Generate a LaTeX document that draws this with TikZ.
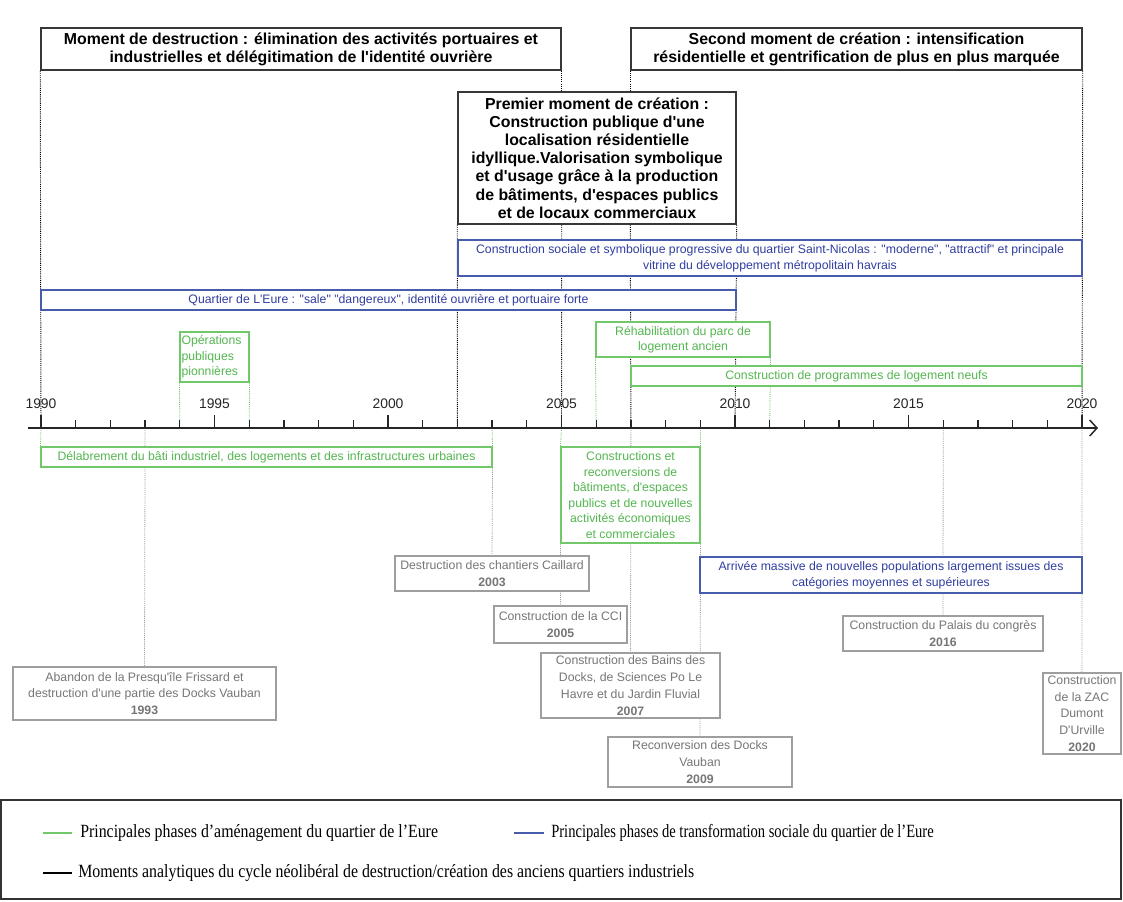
\documentclass[tikz,border=0pt]{standalone}
\usepackage{fontspec}
\usetikzlibrary{arrows.meta,backgrounds}
\newfontfamily\arialf{Liberation Sans}
\newfontfamily\timesf{Liberation Serif}
\definecolor{gtxt}{RGB}{84,182,80}
\definecolor{gline}{RGB}{112,200,104}
\definecolor{btxt}{RGB}{48,62,160}
\definecolor{bline}{RGB}{72,92,172}
\definecolor{etxt}{RGB}{118,118,118}
\definecolor{eline}{RGB}{158,158,158}
\definecolor{hdrc}{RGB}{55,55,55}
\begin{document}
\begin{tikzpicture}[x=0.75pt,y=-0.75pt,
  every node/.style={inner sep=0pt, font=\arialf},
  wh/.style 2 args={minimum width=#1*0.75pt, minimum height=#2*0.75pt},
  hdr/.style={draw=hdrc, line width=1.1pt, fill=white, align=center,
    font=\arialf\bfseries\fontsize{11.9}{13.6}\selectfont},
  gbox/.style={draw=gline, line width=0.8pt, fill=white, align=center, text=gtxt,
    font=\arialf\fontsize{9.2}{11.6}\selectfont},
  bbox/.style={draw=bline, line width=0.8pt, fill=white, align=center, text=btxt,
    font=\arialf\fontsize{9.2}{12}\selectfont},
  ebox/.style={draw=eline, line width=0.8pt, fill=white, align=center, text=etxt,
    font=\arialf\fontsize{9.2}{12.6}\selectfont},
  kline/.style={draw=black, line width=0.7pt, dash pattern=on 0.8pt off 0.8pt},
  gdot/.style={draw=gline, line width=0.6pt, dash pattern=on 0.8pt off 0.8pt},
  edot/.style={draw=eline, line width=0.6pt, dash pattern=on 0.8pt off 0.8pt},
  tickln/.style={line width=1pt, draw=black!85},
  yearlab/.style={font=\arialf\fontsize{10.4}{11}\selectfont, text=black!85},
  leglab/.style={anchor=west, font=\timesf\fontsize{14}{15}\selectfont}
]
\useasboundingbox (0,0) rectangle (1123,901);

% axis coordinates
\foreach \yr in {1990,...,2020}{
  \coordinate (t\yr) at ({41+(\yr-1990)*34.7},428);
}
\coordinate (axstart) at (28,428);
\coordinate (axend) at (1098,428);

% headers
\node[hdr, wh={520}{42}] (h1) at (301,49) {Moment de destruction : élimination des activités portuaires et\\industrielles et délégitimation de l'identité ouvrière};
\node[hdr, wh={451}{42}] (h3) at (856.5,49) {Second moment de création : intensification\\résidentielle et gentrification de plus en plus marquée};
\node[hdr, wh={278}{132}] (h2) at (597,158) {Premier moment de création :\\Construction publique d'une\\localisation résidentielle\\idyllique.Valorisation symbolique\\et d'usage grâce à la production\\de bâtiments, d'espaces publics\\et de locaux commerciaux};

% blue phases
\node[bbox, wh={624}{36}] (b1) at (770,258) {Construction sociale et symbolique progressive du quartier Saint-Nicolas : "moderne", "attractif" et principale\\vitrine du développement métropolitain havrais};
\node[bbox, wh={695}{20}] (b2) at (388.5,300) {Quartier de L'Eure : "sale" "dangereux", identité ouvrière et portuaire forte};
\node[bbox, wh={382}{36}] (b3) at (891,575) {Arrivée massive de nouvelles populations largement issues des\\catégories moyennes et supérieures};

% green phases
\node[gbox, wh={69}{50}, align=left, text width=66*0.75pt] (g1) at (214.5,357) {Opérations\\publiques\\pionnières};
\node[gbox, wh={174}{35}] (g2) at (683,339.5) {Réhabilitation du parc de\\logement ancien};
\node[gbox, wh={451}{20}] (g3) at (856.5,376) {Construction de programmes de logement neufs};
\node[gbox, wh={451}{20}] (g4) at (266.5,457) {Délabrement du bâti industriel, des logements et des infrastructures urbaines};
\node[gbox, wh={139}{96}] (g5) at (630.5,495) {Constructions et\\reconversions de\\bâtiments, d'espaces\\publics et de nouvelles\\activités économiques\\et commerciales};

% events
\node[ebox, wh={194}{35}] (e1) at (492,573.5) {Destruction des chantiers Caillard\\\textbf{2003}};
\node[ebox, wh={133}{37}] (e2) at (560.5,624.5) {Construction de la CCI\\\textbf{2005}};
\node[ebox, wh={263}{53}] (e3) at (144.5,693.5) {Abandon de la Presqu'île Frissard et\\destruction d'une partie des Docks Vauban\\\textbf{1993}};
\node[ebox, wh={179}{65}] (e4) at (630.5,685.5) {Construction des Bains des\\Docks, de Sciences Po Le\\Havre et du Jardin Fluvial\\\textbf{2007}};
\node[ebox, wh={184}{50}] (e5) at (700,762) {Reconversion des Docks\\Vauban\\\textbf{2009}};
\node[ebox, wh={200}{35}] (e6) at (943,633.5) {Construction du Palais du congrès\\\textbf{2016}};
\node[ebox, wh={78}{81}] (e7) at (1082,713.5) {Construction\\de la ZAC\\Dumont\\D'Urville\\\textbf{2020}};

% connectors behind boxes
\begin{scope}[on background layer]
  \fill[white] (0,0) rectangle (1123,901);
  % moments (black)
  \draw[kline] (h1.south west) -- (t1990);
  \draw[kline] (h1.south east) -- (h1.south east |- h2.north);
  \draw[kline] (h1.south east |- h2.south) -- (t2005);
  \draw[kline] (h3.south west) -- (h3.south west |- h2.north);
  \draw[kline] (h3.south west |- h2.south) -- (t2007);
  \draw[kline] (h3.south east) -- (t2020);
  \draw[kline] (h2.south west) -- (t2002);
  \draw[kline] (h2.south east) -- (t2010);
  % green phases
  \draw[gdot] (g1.south west) -- (t1994);
  \draw[gdot] (g1.south east) -- (t1996);
  \draw[gdot] (g2.south west) -- (t2006);
  \draw[gdot] (g2.south east) -- (t2011);
  \draw[gdot] (t1990) -- (g4.north west);
  \draw[gdot] (t2003) -- (g4.north east);
  \draw[gdot] (t2005) -- (g5.north west);
  \draw[gdot] (t2009) -- (g5.north east);
  % events
  \draw[edot] (t1993) -- (e3.north);
  \draw[edot] (g4.south east) -- (e1.north);
  \draw[edot] (g5.south west) -- (e2.north);
  \draw[edot] (t2007) -- (e4.north);
  \draw[edot] (g5.south east) -- (e5.north);
  \draw[edot] (t2016) -- (e6.north);
  \draw[edot] (t2020) -- (e7.north);
\end{scope}

% axis
\draw[line width=1.1pt, draw=black!85, -{Straight Barb[length=5.5pt,width=12pt,line width=1.1pt]}] (axstart) -- (axend);
\foreach \yr in {1990,...,2020}{
  \pgfmathtruncatemacro\md{mod(\yr,5)}
  \ifnum\md=0
    \draw[tickln] (t\yr) -- ++(0,-13);
    \path (t\yr) ++(0,-24) node[yearlab] (lab\yr) {\yr};
  \else
    \draw[tickln] (t\yr) -- ++(0,-8);
  \fi
}

% legend
\node[draw=black!80, line width=1.1pt, wh={1120}{99}] (leg) at (561,849.5) {};
\coordinate (lg1a) at (43,833); \coordinate (lg1b) at (72,833);
\coordinate (lg2a) at (514,833); \coordinate (lg2b) at (544,833);
\coordinate (lg3a) at (43,873); \coordinate (lg3b) at (72,873);
\draw[line width=2pt, draw=gline] (lg1a) -- (lg1b);
\draw[line width=2pt, draw=bline] (lg2a) -- (lg2b);
\draw[line width=2pt, draw=black] (lg3a) -- (lg3b);
\node[leglab] (lt1) at (80,833) {\scalebox{0.85}[1]{Principales phases d’aménagement du quartier de l’Eure}};
\node[leglab] (lt2) at (551,833) {\scalebox{0.78}[1]{Principales phases de transformation sociale du quartier de l’Eure}};
\node[leglab] (lt3) at (78,873) {\scalebox{0.85}[1]{Moments analytiques du cycle néolibéral de destruction/création des anciens quartiers industriels}};
\end{tikzpicture}
\end{document}
